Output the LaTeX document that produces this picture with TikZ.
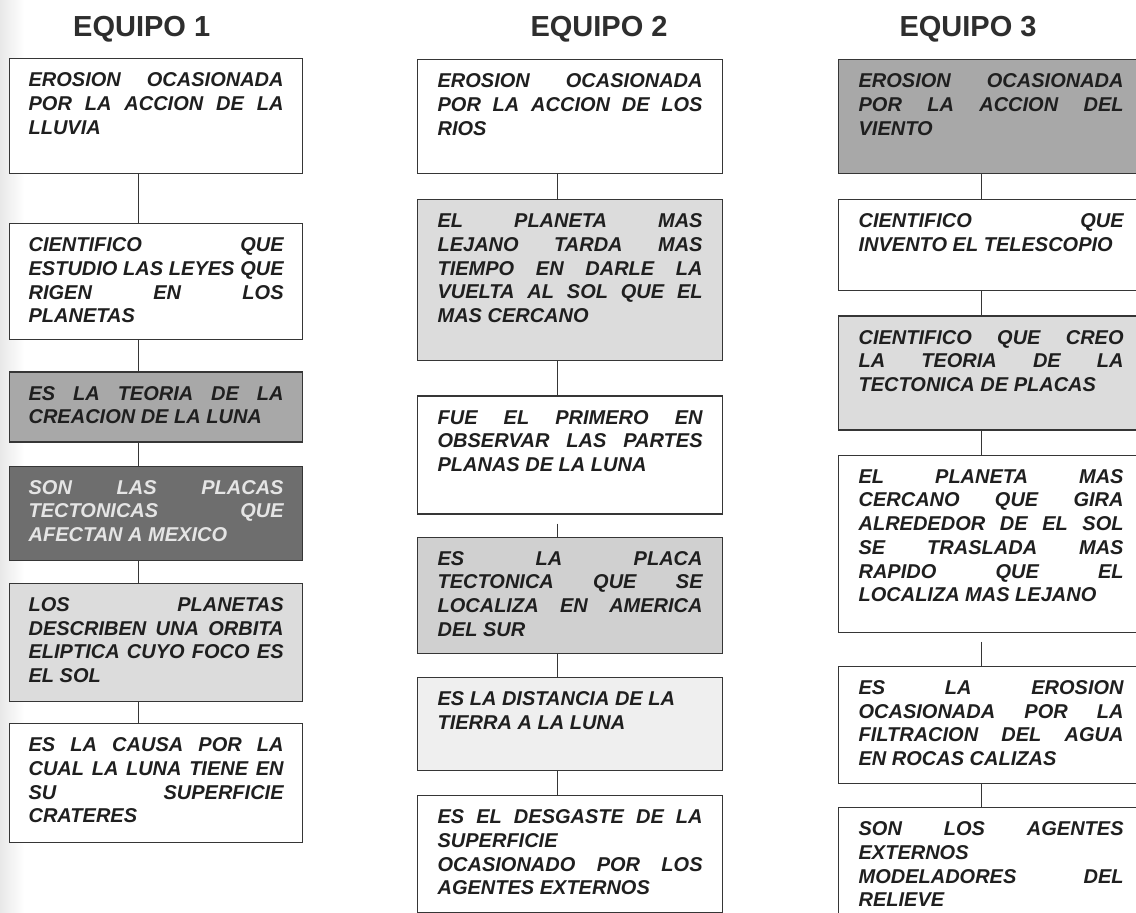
\documentclass[tikz,border=0pt]{standalone}
\usepackage{fontspec}
\setmainfont{Liberation Sans}
\usepackage{tikz}
\usetikzlibrary{positioning}

\definecolor{tinta}{HTML}{1F1F1F}
\definecolor{borde}{HTML}{363636}
\definecolor{grispalido}{HTML}{EFEFEF}
\definecolor{grisclaro}{HTML}{DCDCDC}
\definecolor{grisplaca}{HTML}{D0D0D0}
\definecolor{grismedio}{HTML}{A8A8A8}
\definecolor{grisoscuro}{HTML}{6E6E6E}

\newcommand{\cajafont}{\bfseries\itshape\fontsize{20pt}{23.7pt}\selectfont\hyphenpenalty=10000 \hbadness=10000 }
\newcommand{\titfont}{\bfseries\fontsize{29pt}{30pt}\selectfont}

\begin{document}
\begin{tikzpicture}[x=1pt,y=-1pt,
    caja/.style={draw=borde,line width=1.2pt,fill=white,anchor=north west,inner ysep=0pt,
      text height=28pt,align=justify,font=\cajafont,text=tinta},
    col1/.style={caja,text width=255pt,inner xsep=19pt},
    col23/.style={caja,text width=265pt,inner xsep=20pt},
    titulo/.style={font=\titfont,text=black!82,anchor=base},
    linea/.style={draw=borde,line width=1.2pt}]
  \useasboundingbox[fill=white] (0,0) rectangle (1136,913);
  \fill[left color=black!9,right color=white] (0,0) rectangle (24,913);

  \draw (141.7,36) node[titulo] (t1) {EQUIPO 1};
  \draw (599,36) node[titulo] (t2) {EQUIPO 2};
  \draw (968,36) node[titulo] (t3) {EQUIPO 3};

  \node[col1,text depth=87pt] (b11) at (9,58) {EROSION OCASIONADA\linebreak POR LA ACCION DE LA\linebreak LLUVIA};
  \node[col1,text depth=88pt] (b12) [below=49pt of b11] {CIENTIFICO QUE\linebreak ESTUDIO LAS LEYES QUE\linebreak RIGEN EN LOS\linebreak PLANETAS};
  \node[col1,text depth=42pt,fill=grismedio] (b13) [below=31pt of b12] {ES LA TEORIA DE LA\linebreak CREACION DE LA LUNA};
  \node[col1,text depth=66pt,fill=grisoscuro,text=white!90!black] (b14) [below=23pt of b13] {SON LAS PLACAS\linebreak TECTONICAS QUE\linebreak AFECTAN A MEXICO};
  \node[col1,text depth=90pt,fill=grisclaro] (b15) [below=22pt of b14] {LOS PLANETAS\linebreak DESCRIBEN UNA ORBITA\linebreak ELIPTICA CUYO FOCO ES\linebreak EL SOL};
  \node[col1,text depth=91pt] (b16) [below=21pt of b15] {ES LA CAUSA POR LA\linebreak CUAL LA LUNA TIENE EN\linebreak SU SUPERFICIE\linebreak CRATERES};

  \node[col23,text depth=86pt] (b21) at (417,59) {EROSION OCASIONADA\linebreak POR LA ACCION DE LOS\linebreak RIOS};
  \node[col23,text depth=133pt,fill=grisclaro] (b22) [below=25pt of b21] {EL PLANETA MAS\linebreak LEJANO TARDA MAS\linebreak TIEMPO EN DARLE LA\linebreak VUELTA AL SOL QUE EL\linebreak MAS CERCANO};
  \node[col23,text depth=90pt] (b23) [below=34pt of b22] {FUE EL PRIMERO EN\linebreak OBSERVAR LAS PARTES\linebreak PLANAS DE LA LUNA};
  \node[col23,text depth=88pt,fill=grisplaca] (b24) [below=22pt of b23] {ES LA PLACA\linebreak TECTONICA QUE SE\linebreak LOCALIZA EN AMERICA\linebreak DEL SUR};
  \node[col23,text depth=65pt,fill=grispalido] (b25) [below=23pt of b24] {ES LA DISTANCIA DE LA\\ TIERRA A LA LUNA};
  \node[col23,text depth=89pt] (b26) [below=24pt of b25] {ES EL DESGASTE DE LA\linebreak SUPERFICIE\linebreak OCASIONADO POR LOS\linebreak AGENTES EXTERNOS};

  \node[col23,text depth=86pt,fill=grismedio] (b31) at (838,59) {EROSION OCASIONADA\linebreak POR LA ACCION DEL\linebreak VIENTO};
  \node[col23,text depth=63pt] (b32) [below=25pt of b31] {CIENTIFICO QUE\linebreak INVENTO EL TELESCOPIO};
  \node[col23,text depth=86pt,fill=grisclaro] (b33) [below=24pt of b32] {CIENTIFICO QUE CREO\linebreak LA TEORIA DE LA\linebreak TECTONICA DE PLACAS};
  \node[col23,text depth=149pt] (b34) [below=24pt of b33] {EL PLANETA MAS\linebreak CERCANO QUE GIRA\linebreak ALREDEDOR DE EL SOL\linebreak SE TRASLADA MAS\linebreak RAPIDO QUE EL\linebreak LOCALIZA MAS LEJANO};
  \node[col23,text depth=89pt] (b35) [below=33pt of b34] {ES LA EROSION\linebreak OCASIONADA POR LA\linebreak FILTRACION DEL AGUA\linebreak EN ROCAS CALIZAS};
  \node[col23,text depth=100pt] (b36) [below=23pt of b35] {SON LOS AGENTES\linebreak EXTERNOS\linebreak MODELADORES DEL\linebreak RELIEVE};

  \draw[linea] ([xshift=-17.5pt]b11.south) -- ([xshift=-17.5pt]b12.north);
  \draw[linea] ([xshift=-17.5pt]b12.south) -- ([xshift=-17.5pt]b13.north);
  \draw[linea] ([xshift=-17.5pt]b13.south) -- ([xshift=-17.5pt]b14.north);
  \draw[linea] ([xshift=-17.5pt]b14.south) -- ([xshift=-17.5pt]b15.north);
  \draw[linea] ([xshift=-17.5pt]b15.south) -- ([xshift=-17.5pt]b16.north);

  \draw[linea] ([xshift=-12.5pt]b21.south) -- ([xshift=-12.5pt]b22.north);
  \draw[linea] ([xshift=-12.5pt]b22.south) -- ([xshift=-12.5pt]b23.north);
  \draw[linea,shorten <=9pt] ([xshift=-12.5pt]b23.south) -- ([xshift=-12.5pt]b24.north);
  \draw[linea] ([xshift=-12.5pt]b24.south) -- ([xshift=-12.5pt]b25.north);
  \draw[linea] ([xshift=-12.5pt]b25.south) -- ([xshift=-12.5pt]b26.north);

  \draw[linea] ([xshift=-9.5pt]b31.south) -- ([xshift=-9.5pt]b32.north);
  \draw[linea] ([xshift=-9.5pt]b32.south) -- ([xshift=-9.5pt]b33.north);
  \draw[linea] ([xshift=-9.5pt]b33.south) -- ([xshift=-9.5pt]b34.north);
  \draw[linea,shorten <=9pt] ([xshift=-9.5pt]b34.south) -- ([xshift=-9.5pt]b35.north);
  \draw[linea] ([xshift=-9.5pt]b35.south) -- ([xshift=-9.5pt]b36.north);
\end{tikzpicture}
\end{document}
